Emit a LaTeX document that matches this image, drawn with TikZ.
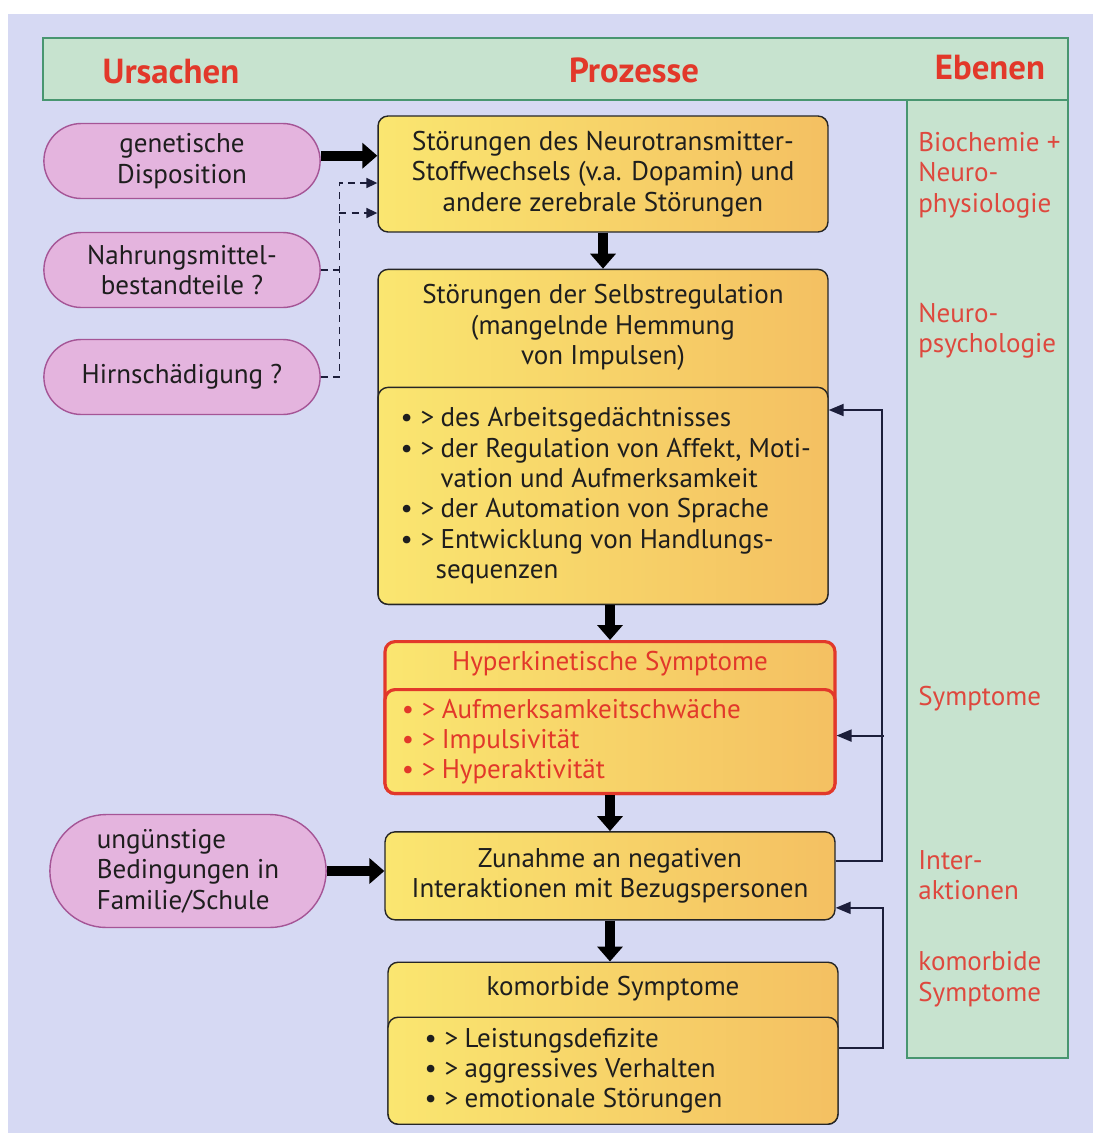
\documentclass[tikz,border=0pt]{standalone}
\usepackage{fontspec}
\setmainfont{PT Sans}
\usepackage{xcolor}
\usepackage{tikz}
\usetikzlibrary{shapes,arrows,positioning,calc,arrows.meta,shapes.misc}
\definecolor{bgLavender}{RGB}{214,217,243}
\definecolor{headGreen}{RGB}{199,227,207}
\definecolor{headBorder}{RGB}{72,150,112}
\definecolor{pillPink}{RGB}{228,180,222}
\definecolor{pillBorder}{RGB}{165,85,150}
\definecolor{boxYellow}{RGB}{250,230,112}
\definecolor{boxOrange}{RGB}{244,192,98}
\definecolor{titleRed}{RGB}{226,56,42}
\definecolor{levelRed}{RGB}{222,72,62}
\definecolor{lineNavy}{RGB}{28,30,58}
\definecolor{textDark}{RGB}{30,30,30}
\newcommand{\bodyFont}{\fontsize{15.4}{17.3}\selectfont}
\newcommand{\listItem}[1]{\makebox[0.4cm][l]{\textbullet}\makebox[0.4cm][l]{>}#1}
\newcommand{\listCont}[1]{\hspace*{0.8cm}#1}
\tikzset{
  headText/.style={
    font=\fontsize{19.8}{23}\selectfont\bfseries,
    text=titleRed
  },
  levelText/.style={
    anchor=west,
    align=left,
    inner sep=0pt,
    font=\bodyFont,
    text=levelRed
  },
  causePill/.style={
    rounded rectangle,
    draw=pillBorder,
    fill=pillPink,
    line width=0.8pt,
    minimum width=5.76cm,
    minimum height=1.5cm,
    align=center,
    text=textDark,
    font=\bodyFont
  },
  processBox/.style={
    rectangle,
    rounded corners=0.2cm,
    draw=black!85,
    line width=0.8pt,
    left color=boxYellow,
    right color=boxOrange,
    minimum width=9cm,
    align=center,
    text=textDark,
    font=\bodyFont
  },
  symptomBox/.style={
    processBox,
    draw=titleRed,
    line width=1.8pt
  },
  titleText/.style={
    align=center,
    inner sep=0pt,
    text=textDark,
    font=\bodyFont
  },
  listText/.style={
    titleText,
    align=left
  },
  thickArrow/.style={
    -{Triangle[length=0.3cm,width=0.5cm]},
    line width=0.2cm,
    draw=black
  },
  loopArrow/.style={
    -{Triangle[length=0.3cm,width=0.24cm]},
    line width=1.1pt,
    draw=lineNavy
  },
  dashLine/.style={
    dash pattern=on 4pt off 3pt,
    line width=0.9pt,
    draw=lineNavy
  },
  dashArrow/.style={
    dashLine,
    -{Triangle[length=0.22cm,width=0.2cm]}
  }
}
\begin{document}
\begin{tikzpicture}[x=0.02cm,y=-0.02cm]
  \useasboundingbox (0,0) rectangle (1093,1133);
  \fill[white] (0,0) rectangle (1093,1133);
  \fill[bgLavender] (8,14) rectangle (1093,1133);

  % head band and levels column
  \draw[headBorder, fill=headGreen, line width=1pt] (907,96) rectangle (1068,1058);
  \draw[headBorder, fill=headGreen, line width=1pt] (43,38) rectangle (1068,100);
  \node[headText] (hdCause) at (171,72) {Ursachen};
  \node[headText] (hdProcess) at (634,70) {Prozesse};
  \node[headText] (hdLevel) at (990,68) {Ebenen};

  % causes
  \node[causePill] (genetic) at (182,161) {genetische\\Disposition};
  \node[causePill] (food) at (182,270) {Nahrungsmittel-\\bestandteile ?};
  \node[causePill] (brain) at (182,377) {Hirnschädigung ?};
  \node[causePill, minimum height=2.26cm, align=left] (family) at (188,871) {ungünstige\\Bedingungen in\\Familie/Schule};

  % processes
  \node[processBox, minimum height=2.32cm] (neuro) at (603,174)
    {Störungen des Neurotransmitter-\\Stoffwechsels (v.a. Dopamin) und\\andere zerebrale Störungen};
  \node[processBox, minimum height=6.7cm, below=0.72cm of neuro] (selbst) {};
  \node[processBox, minimum height=4.34cm, anchor=south] (selbstList) at (selbst.south) {};
  \node[listText, right=0.46cm of selbstList.west] (selbstItems)
    {\listItem{des Arbeitsgedächtnisses}\\
     \listItem{der Regulation von Affekt, Moti-}\\
     \listCont{vation und Aufmerksamkeit}\\
     \listItem{der Automation von Sprache}\\
     \listItem{Entwicklung von Handlungs-}\\
     \hspace*{0.7cm}sequenzen};
  \node[titleText] (selbstTitle) at ($(selbst.north)!0.5!(selbstList.north)$)
    {Störungen der Selbstregulation\\(mangelnde Hemmung\\von Impulsen)};

  \node[symptomBox, minimum height=3.04cm, below=0.7cm of selbst, xshift=0.14cm] (hyper) {};
  \node[symptomBox, minimum height=2.08cm, anchor=south] (hyperList) at (hyper.south) {};
  \node[listText, text=titleRed, right=0.36cm of hyperList.west] (hyperItems)
    {\listItem{Aufmerksamkeitschwäche}\\
     \listItem{Impulsivität}\\
     \listItem{Hyperaktivität}};
  \node[titleText, text=titleRed] (hyperTitle) at ($(hyper.north)!0.5!(hyperList.north)$) {Hyperkinetische Symptome};

  \node[processBox, minimum height=1.76cm, below=0.72cm of hyper] (zunahme)
    {Zunahme an negativen\\Interaktionen mit Bezugspersonen};

  \node[processBox, minimum height=3.24cm, below=0.82cm of zunahme, xshift=0.06cm] (komorb) {};
  \node[processBox, minimum height=2.14cm, anchor=south] (komorbList) at (komorb.south) {};
  \node[listText, right=0.74cm of komorbList.west] (komorbItems)
    {\listItem{Leistungsdefizite}\\
     \listItem{aggressives Verhalten}\\
     \listItem{emotionale Störungen}};
  \node[titleText] (komorbTitle) at ($(komorb.north)!0.5!(komorbList.north)$) {komorbide Symptome};

  % levels
  \node[levelText] (lvlBio) at (918,175) {Biochemie +\\Neuro-\\physiologie};
  \node[levelText] (lvlPsy) at (918,331) {Neuro-\\psychologie};
  \node[levelText] (lvlSym) at (918,699) {Symptome};
  \node[levelText] (lvlInter) at (918,875) {Inter-\\aktionen};
  \node[levelText] (lvlKomorb) at (918,979) {komorbide\\Symptome};

  % arrows
  \draw[thickArrow] ([yshift=3]genetic.east) -- ([yshift=3]genetic.east -| neuro.west);
  \coordinate (dashTop) at ($(neuro.west)+(-38,9)$);
  \coordinate (dashLow) at ($(neuro.west)+(-38,39)$);
  \draw[dashArrow] (brain.east) -| (dashTop) -- (dashTop -| neuro.west);
  \draw[dashArrow] (dashLow) -- (dashLow -| neuro.west);
  \draw[dashLine] (food.east) -- (food.east -| dashTop);

  \draw[thickArrow] (neuro) -- (selbst);
  \draw[thickArrow] (hyper.north |- selbst.south) -- (hyper.north);
  \draw[thickArrow] (hyper) -- (zunahme);
  \draw[thickArrow] (zunahme.south) -- (zunahme.south |- komorb.north);
  \draw[thickArrow] (family.east) -- (family.east -| zunahme.west);

  % feedback
  \coordinate (loopTop) at (882,410);
  \draw[loopArrow] ($(zunahme.east)+(0,-15)$) -| (loopTop) -- (loopTop -| selbstList.east);
  \draw[loopArrow] ($(hyperList.east)+(0,-6)$) ++(47,0) -- ($(hyperList.east)+(0,-6)$);
  \coordinate (loopLow) at ($(zunahme.east)+(47,32)$);
  \draw[loopArrow] ($(komorbList.east)+(0,-23)$) -| (loopLow) -- (loopLow -| zunahme.east);
\end{tikzpicture}
\end{document}
